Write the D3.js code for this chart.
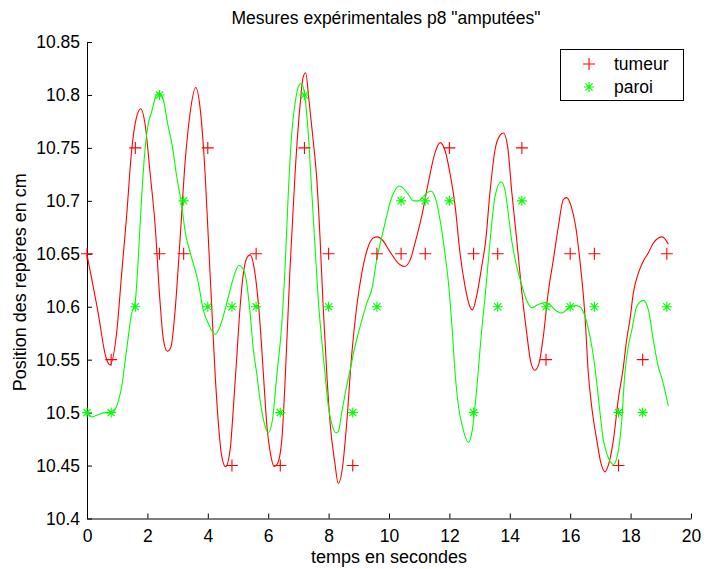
<!DOCTYPE html>
<html><head><meta charset="utf-8">
<script src="https://cdn.jsdelivr.net/npm/d3@7"></script>
<style>body{margin:0;background:#fff}svg{display:block}text{font-family:"Liberation Sans",Arial,Helvetica,sans-serif;fill:#000}</style>
</head><body><svg id="c" width="704" height="569"></svg>
<script>
// Measured marker times (s)
const times = [0,0.8,1.6,2.4,3.2,4.0,4.8,5.6,6.4,7.2,8.0,8.8,9.6,10.4,11.2,12.0,12.8,13.6,14.4,15.2,16.0,16.8,17.6,18.4,19.2];
const tumeur = [10.65,10.55,10.75,10.65,10.65,10.75,10.45,10.65,10.45,10.75,10.65,10.45,10.65,10.65,10.65,10.75,10.65,10.65,10.75,10.55,10.65,10.65,10.45,10.55,10.65];
const paroi  = [10.5,10.5,10.6,10.8,10.7,10.6,10.6,10.6,10.5,10.8,10.6,10.5,10.6,10.7,10.7,10.7,10.5,10.6,10.7,10.6,10.6,10.6,10.5,10.5,10.6];

// Smoothed curves
const tumeurCurveT = [0,0.37,0.62,0.76,0.98,1.15,1.31,1.48,1.64,1.78,1.92,2.09,2.25,2.42,2.53,2.66,2.78,2.91,3.08,3.25,3.41,3.60,3.74,3.91,4.02,4.13,4.24,4.35,4.46,4.59,4.74,4.85,4.96,5.07,5.18,5.29,5.40,5.56,5.73,5.84,5.95,6.09,6.20,6.31,6.45,6.56,6.72,6.89,7.05,7.16,7.24,7.35,7.49,7.61,7.72,7.82,7.94,8.05,8.21,8.32,8.45,8.60,8.76,8.93,9.10,9.29,9.48,9.62,9.78,10.03,10.31,10.51,10.70,10.86,11.08,11.30,11.52,11.69,11.85,12.02,12.19,12.35,12.52,12.68,12.76,12.90,13.07,13.20,13.34,13.51,13.68,13.79,13.93,14.06,14.23,14.39,14.56,14.70,14.83,14.97,15.11,15.27,15.44,15.61,15.77,15.88,16.03,16.18,16.32,16.49,16.60,16.71,16.88,17.02,17.15,17.28,17.43,17.59,17.76,17.87,17.98,18.09,18.26,18.42,18.59,18.75,18.92,19.05,19.25];
const tumeurCurveV = [10.649,10.594,10.553,10.545,10.575,10.632,10.685,10.748,10.779,10.787,10.773,10.726,10.679,10.604,10.569,10.558,10.562,10.594,10.663,10.737,10.782,10.807,10.789,10.726,10.663,10.600,10.538,10.490,10.459,10.449,10.465,10.506,10.553,10.600,10.632,10.646,10.649,10.632,10.584,10.537,10.490,10.459,10.449,10.452,10.474,10.530,10.635,10.726,10.789,10.817,10.821,10.795,10.757,10.720,10.663,10.600,10.537,10.490,10.452,10.433,10.446,10.490,10.553,10.600,10.632,10.655,10.665,10.666,10.663,10.652,10.641,10.638,10.644,10.660,10.685,10.717,10.745,10.755,10.748,10.726,10.695,10.651,10.619,10.600,10.597,10.610,10.638,10.662,10.707,10.748,10.762,10.764,10.751,10.710,10.663,10.616,10.575,10.547,10.540,10.547,10.572,10.613,10.644,10.676,10.701,10.703,10.695,10.676,10.644,10.591,10.537,10.506,10.474,10.452,10.444,10.452,10.474,10.512,10.543,10.569,10.588,10.613,10.632,10.643,10.651,10.660,10.665,10.666,10.659];
const paroiCurveT = [0,0.16,0.37,0.60,0.82,0.98,1.15,1.31,1.48,1.59,1.70,1.81,1.92,2.03,2.14,2.27,2.38,2.53,2.67,2.83,2.97,3.14,3.25,3.41,3.69,3.85,4.02,4.24,4.40,4.57,4.74,4.90,5.03,5.18,5.29,5.40,5.51,5.62,5.73,5.87,6.00,6.14,6.28,6.45,6.56,6.67,6.78,6.89,7.00,7.09,7.20,7.31,7.44,7.55,7.66,7.77,7.88,7.99,8.10,8.24,8.32,8.43,8.57,8.71,8.87,9.04,9.26,9.45,9.59,9.76,9.92,10.03,10.20,10.33,10.47,10.64,10.81,10.97,11.14,11.28,11.39,11.52,11.69,11.85,11.96,12.08,12.19,12.30,12.43,12.63,12.76,12.90,13.07,13.20,13.34,13.51,13.71,13.84,13.95,14.06,14.23,14.39,14.56,14.72,14.94,15.17,15.33,15.50,15.72,15.94,16.16,16.32,16.49,16.66,16.77,16.88,16.99,17.10,17.24,17.43,17.56,17.70,17.81,17.92,18.04,18.20,18.42,18.59,18.75,18.92,19.05,19.25];
const paroiCurveV = [10.499,10.496,10.498,10.500,10.500,10.506,10.525,10.559,10.594,10.603,10.647,10.704,10.748,10.773,10.784,10.798,10.802,10.795,10.773,10.751,10.723,10.695,10.671,10.652,10.622,10.597,10.584,10.574,10.581,10.597,10.616,10.632,10.639,10.635,10.622,10.594,10.559,10.537,10.512,10.490,10.481,10.493,10.534,10.584,10.638,10.710,10.764,10.792,10.808,10.811,10.802,10.770,10.710,10.657,10.606,10.569,10.537,10.506,10.490,10.481,10.482,10.499,10.521,10.540,10.562,10.581,10.603,10.619,10.644,10.666,10.685,10.698,10.710,10.714,10.712,10.706,10.700,10.700,10.704,10.708,10.709,10.704,10.682,10.651,10.625,10.584,10.537,10.506,10.487,10.472,10.484,10.521,10.578,10.615,10.660,10.704,10.718,10.710,10.688,10.663,10.638,10.621,10.606,10.599,10.602,10.604,10.602,10.597,10.594,10.599,10.601,10.600,10.591,10.571,10.553,10.528,10.499,10.474,10.459,10.451,10.459,10.490,10.537,10.562,10.578,10.600,10.606,10.597,10.569,10.543,10.531,10.506];

const xTicks = [0,2,4,6,8,10,12,14,16,18,20];
const yTicks = [10.4,10.45,10.5,10.55,10.6,10.65,10.7,10.75,10.8,10.85];
const yTickLabels = ["10.4","10.45","10.5","10.55","10.6","10.65","10.7","10.75","10.8","10.85"];

const RED = "#ff0000", GREEN = "#00ff00";
const svg = d3.select("#c");
const L = 87, R = 691, T = 42, B = 518.5;
const x = d3.scaleLinear().domain([0,20]).range([L,R]);
const y = d3.scaleLinear().domain([10.4,10.85]).range([B,T]);

// axes
const xa = svg.append("g").attr("transform",`translate(0,${B})`)
  .call(d3.axisBottom(x).tickValues(xTicks).tickSizeInner(-5).tickSizeOuter(0).tickPadding(11).tickFormat(d3.format("d")));
const ya = svg.append("g").attr("transform",`translate(${L},0)`)
  .call(d3.axisLeft(y).tickValues(yTicks).tickSizeInner(-5).tickSizeOuter(0).tickPadding(7).tickFormat((d,i)=>yTickLabels[i]));
[xa,ya].forEach(g=>{
  g.selectAll("text").style("font-size","17.5px").style("font-family","'Liberation Sans',Arial,sans-serif").attr("fill","#000");
  g.selectAll("line").attr("stroke","#000");
  g.select(".domain").attr("stroke","#000");
});

// curves
const line = d3.line().curve(d3.curveMonotoneX);
svg.append("path").attr("d", line(tumeurCurveT.map((t,i)=>[x(t), y(tumeurCurveV[i])])))
  .attr("fill","none").attr("stroke",RED).attr("stroke-width",1.1);
svg.append("path").attr("d", line(paroiCurveT.map((t,i)=>[x(t), y(paroiCurveV[i])])))
  .attr("fill","none").attr("stroke",GREEN).attr("stroke-width",1.1);

function plus(g, cx, cy, color){
  const s = 6;
  g.append("path").attr("d",`M${cx-s},${cy}H${cx+s}M${cx},${cy-s}V${cy+s}`).attr("stroke",color).attr("stroke-width",1.1).attr("fill","none");
}
function star(g, cx, cy, color){
  const s = 5, d = 3.6;
  g.append("path").attr("d",`M${cx-s},${cy}H${cx+s}M${cx},${cy-s}V${cy+s}M${cx-d},${cy-d}L${cx+d},${cy+d}M${cx-d},${cy+d}L${cx+d},${cy-d}`)
    .attr("stroke",color).attr("stroke-width",1.1).attr("fill","none");
}
const mk = svg.append("g");
times.forEach((t,i)=>plus(mk, x(t), y(tumeur[i]), RED));
times.forEach((t,i)=>star(mk, x(t), y(paroi[i]), GREEN));

// title & labels
svg.append("text").attr("x",(L+R)/2 - 3).attr("y",24).attr("text-anchor","middle").style("font-size","17.5px")
  .text('Mesures expérimentales p8 "amputées"');
svg.append("text").attr("x",(L+R)/2).attr("y",563).attr("text-anchor","middle").style("font-size","18px")
  .text("temps en secondes");
svg.append("text").attr("transform",`translate(26,${(T+B)/2 + 2}) rotate(-90)`).attr("text-anchor","middle").style("font-size","18px")
  .text("Position des repères en cm");

// legend
const lg = svg.append("g");
lg.append("rect").attr("x",560.5).attr("y",49.5).attr("width",123).attr("height",51).attr("fill","#fff").attr("stroke","#000").attr("stroke-width",1);
plus(lg, 589, 64, RED);
star(lg, 589, 87, GREEN);
lg.append("text").attr("x",614).attr("y",70).style("font-size","17.5px").text("tumeur");
lg.append("text").attr("x",614).attr("y",93).style("font-size","17.5px").text("paroi");
</script></body></html>
